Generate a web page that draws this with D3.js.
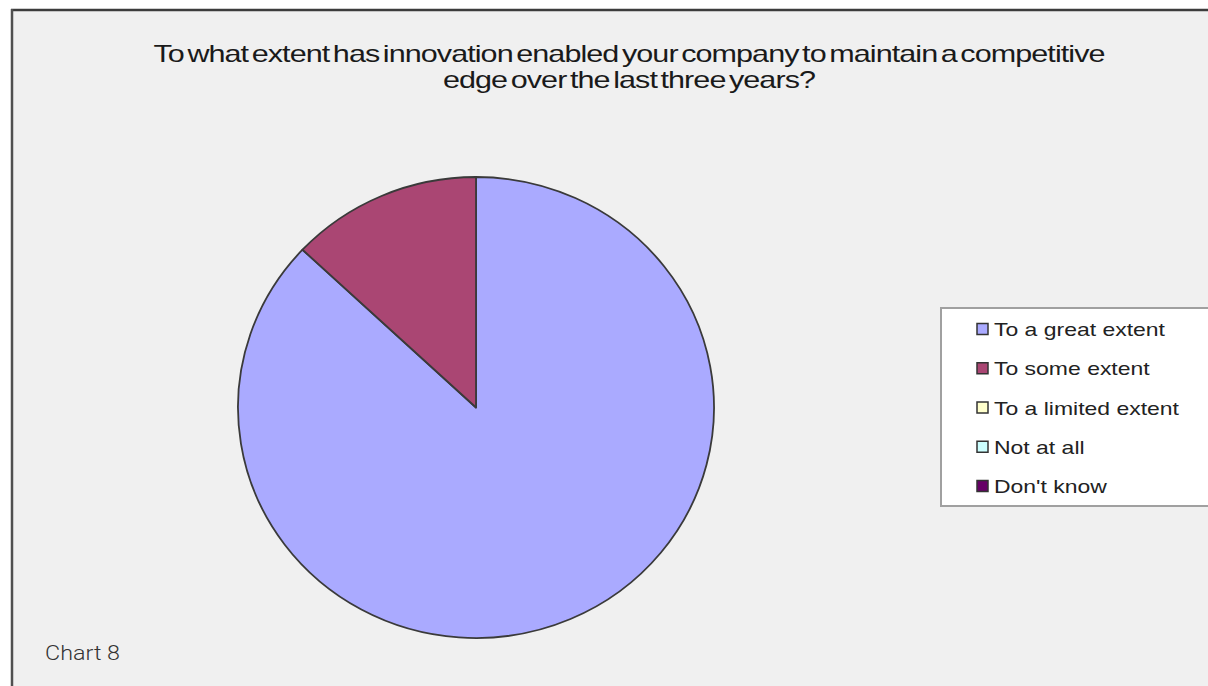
<!DOCTYPE html>
<html>
<head>
<meta charset="utf-8">
<script src="https://cdn.jsdelivr.net/npm/d3@7"></script>
<style>
  html, body { margin: 0; padding: 0; background: #ffffff; }
  svg { display: block; }
</style>
</head>
<body>
<svg id="chart" width="1208" height="686"></svg>
<script>
// Survey responses (percent of respondents)
const categories = ["To a great extent", "To some extent", "To a limited extent", "Not at all", "Don't know"];
const values = [87, 13, 0, 0, 0];
const colors = ["#aaaaff", "#aa4673", "#ffffcc", "#ccffff", "#660066"];
const titleLines = [
  "To what extent has innovation enabled your company to maintain a competitive",
  "edge over the last three years?"
];
const captionText = "Chart 8";

const svg = d3.select("#chart");
const W = 1208, H = 686;

// Panel with a dark top/left frame
svg.append("rect").attr("x", 11).attr("y", 9).attr("width", W).attr("height", H)
  .attr("fill", "#f0f0f0");
svg.append("line").attr("x1", 11).attr("x2", W).attr("y1", 10).attr("y2", 10)
  .attr("stroke", "#3c3c3c").attr("stroke-width", 2.5);
svg.append("line").attr("x1", 12).attr("x2", 12).attr("y1", 9).attr("y2", H)
  .attr("stroke", "#505050").attr("stroke-width", 2.5);

// Title, set tight and horizontally condensed
const title = svg.append("g");
const titleNodes = title.selectAll("text").data(titleLines).join("text")
  .attr("x", 0)
  .attr("y", 0)
  .attr("text-anchor", "middle")
  .attr("font-family", "Liberation Sans, Arial, sans-serif")
  .attr("font-size", 23)
  .attr("letter-spacing", "-0.7px")
  .attr("word-spacing", "-3px")
  .attr("fill", "#1a1a1a")
  .text(d => d);
const tW0 = titleNodes.nodes()[0].getBBox().width;
const tScale = 952 / tW0;
titleNodes.attr("transform", (d, i) => `translate(629,${62 + i * 25.5}) scale(${tScale},1)`);

// Pie
const cx = 476, cy = 407.5, r = 238, ry = 230.5;
const pie = d3.pie().sort(null).value(d => d.value);
const arcs = pie(categories.map((c, i) => ({ name: c, value: values[i], color: colors[i] })))
  .filter(d => d.data.value > 0);
const arc = d3.arc().innerRadius(0).outerRadius(r);
const color = d3.scaleOrdinal().domain(categories).range(colors);

svg.append("g")
  .attr("transform", `translate(${cx},${cy}) scale(1,${ry / r})`)
  .selectAll("path").data(arcs).join("path")
  .attr("d", arc)
  .attr("fill", d => color(d.data.name))
  .attr("stroke", "#3a3a3a")
  .attr("stroke-width", 1.8)
  .attr("stroke-linejoin", "round")
  .attr("vector-effect", "non-scaling-stroke");

// Legend
const legend = svg.append("g");
legend.append("rect")
  .attr("x", 941).attr("y", 308).attr("width", 300).attr("height", 198)
  .attr("fill", "#ffffff").attr("stroke", "#a0a0a0").attr("stroke-width", 2);

const rowY = d3.scalePoint().domain(categories).range([329, 486]);
const rows = legend.selectAll("g.row").data(categories).join("g")
  .attr("class", "row")
  .attr("transform", d => `translate(0,${rowY(d)})`);
rows.append("rect")
  .attr("x", 977).attr("y", -5.5).attr("width", 11).attr("height", 11)
  .attr("fill", d => color(d)).attr("stroke", "#333333").attr("stroke-width", 1.5);
const labels = rows.append("text")
  .attr("x", 994).attr("y", 7)
  .attr("font-family", "Liberation Sans, Arial, sans-serif")
  .attr("font-size", 19)
  .attr("fill", "#222222")
  .text(d => d);
const lW0 = labels.nodes()[0].getComputedTextLength();
const lFactor = 171 / lW0;
labels.each(function() {
  const w = this.getComputedTextLength();
  d3.select(this).attr("textLength", w * lFactor).attr("lengthAdjust", "spacingAndGlyphs");
});

// Caption
svg.append("text")
  .attr("x", 45).attr("y", 660)
  .attr("font-family", "Roboto, 'Noto Sans', sans-serif")
  .attr("font-size", 20)
  .attr("font-weight", 300)
  .attr("fill", "#333333")
  .attr("textLength", 75).attr("lengthAdjust", "spacingAndGlyphs")
  .text(captionText);
</script>
</body>
</html>
